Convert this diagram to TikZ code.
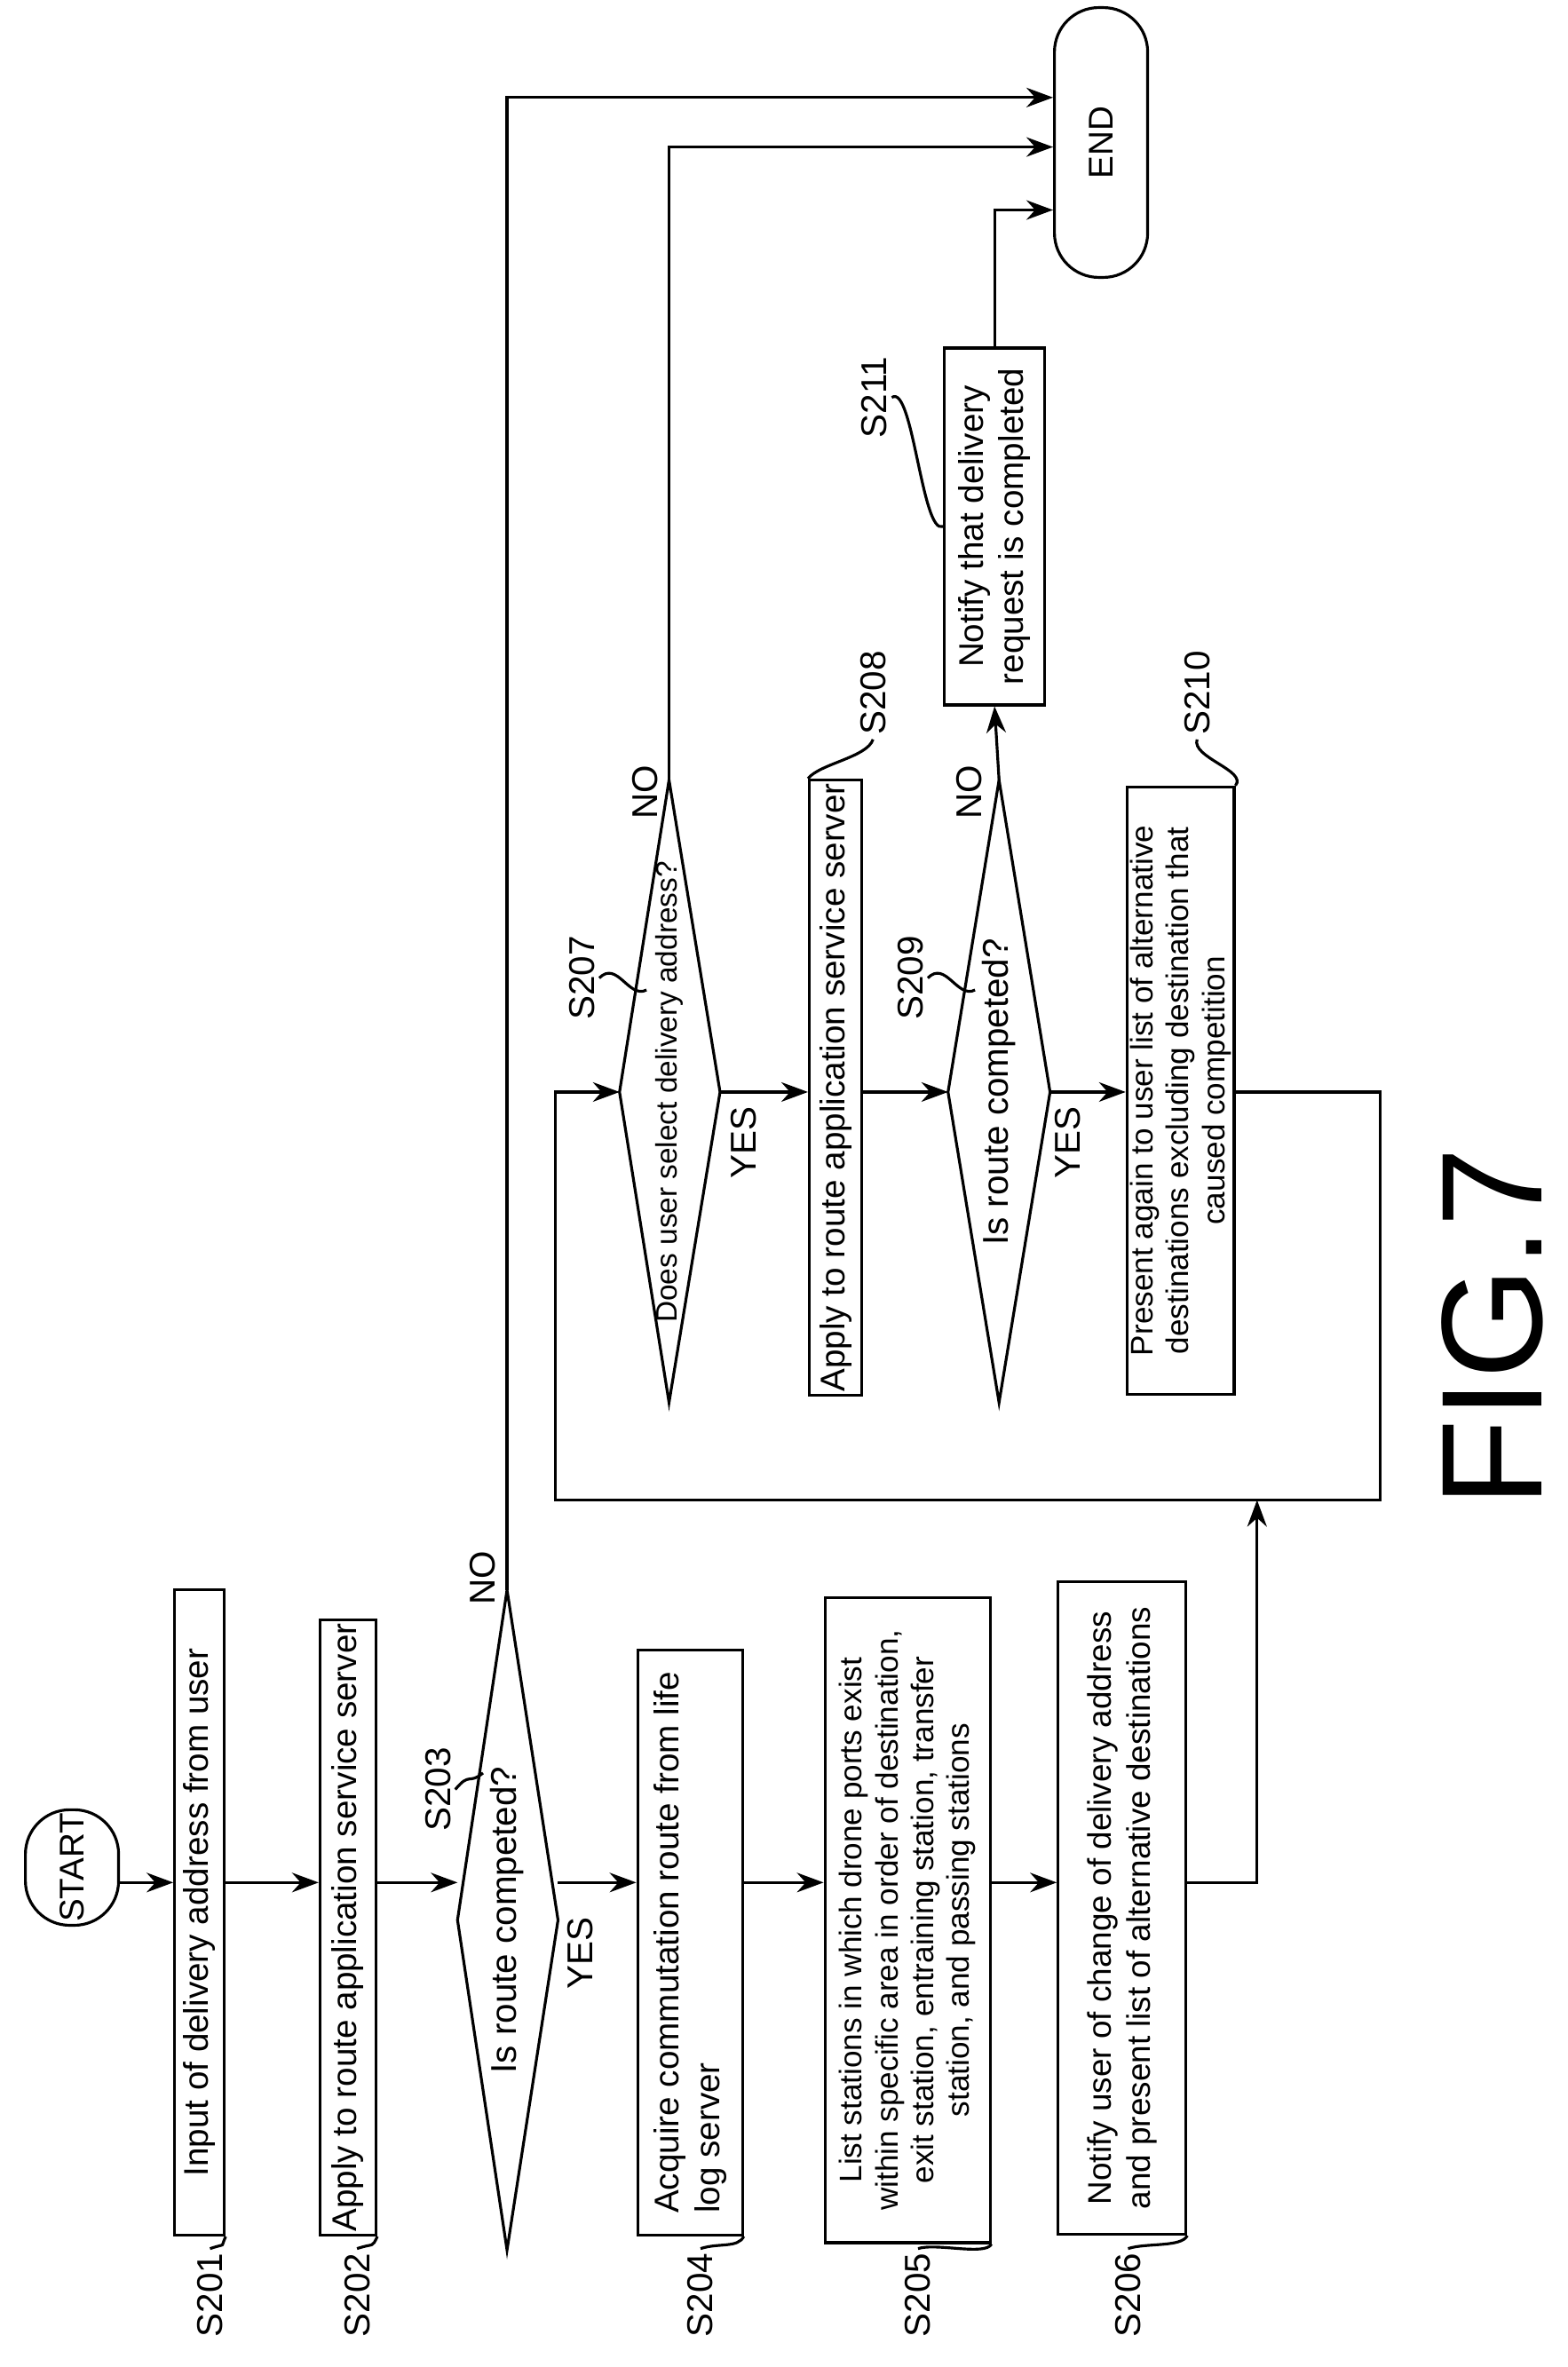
\documentclass[tikz,border=0pt]{standalone}
\usepackage{fontspec}
\setmainfont{Liberation Sans}
\usetikzlibrary{arrows.meta}

\begin{document}
\begin{tikzpicture}
  [x=0.169mm, y=-0.169mm,
   box/.style={rectangle, draw, rotate=90, align=center, inner sep=1pt, font=\fontsize{11}{13}\selectfont},
   pill/.style={box, rounded corners=5mm},
   tag/.style={rotate=90, inner sep=1pt, font=\fontsize{11.5}{13}\selectfont},
   arr/.style={-{Stealth[length=3mm, width=2.2mm]}},
   every path/.style={line width=0.9pt}]
  \useasboundingbox (0,0) rectangle (1045,1578);

  % left column
  \node (start) [pill, minimum width=11.5mm, minimum height=10.5mm] at (48,1245) {START};
  \node (s201) [box, minimum width=72.7mm, minimum height=5.6mm] at (133,1275) {Input of delivery address from user};
  \node (s202) [box, minimum width=69.3mm, minimum height=6.3mm] at (232,1285) {Apply to route application service server};
  \draw (305,1280) -- (338,1060) -- (372,1280) -- (338,1500) -- cycle;
  \coordinate (d203l) at (305,1280);
  \coordinate (d203t) at (338,1060);
  \coordinate (d203r) at (372,1280);
  \node (d203) [tag] at (338,1280) {Is route competed?};
  \node (s204) [box, align=left, minimum width=65.9mm, minimum height=11.8mm] at (460,1295) {Acquire commutation route from life\\log server};
  \node (s205) [box, minimum width=72.7mm, minimum height=18.6mm, font=\fontsize{10}{11.5}\selectfont] at (605,1280)
    {List stations in which drone ports exist\\within specific area in order of destination,\\exit station, entraining station, transfer\\station, and passing stations};
  \node (s206) [box, minimum width=73.5mm, minimum height=14.4mm, font=\fontsize{10.5}{12.5}\selectfont] at (748,1272)
    {Notify user of change of delivery address\\and present list of alternative destinations};

  % right column
  \draw (413,728) -- (446,520) -- (480,728) -- (446,935) -- cycle;
  \coordinate (d207l) at (413,728);
  \coordinate (d207t) at (446,520);
  \coordinate (d207r) at (480,728);
  \node (d207) [tag, font=\fontsize{9.5}{11}\selectfont] at (446,728) {Does user select delivery address?};
  \node (s208) [box, minimum width=69.3mm, minimum height=5.9mm] at (557,725) {Apply to route application service server};
  \draw (632,728) -- (666,520) -- (700,728) -- (666,935) -- cycle;
  \coordinate (d209l) at (632,728);
  \coordinate (d209t) at (666,520);
  \coordinate (d209r) at (700,728);
  \node (d209) [tag] at (666,728) {Is route competed?};
  \node (s210) [box, minimum width=68.4mm, minimum height=12mm, font=\fontsize{10}{11.5}\selectfont] at (787,727)
    {Present again to user list of alternative\\destinations excluding destination that\\caused competition};
  \node (s211) [box, minimum width=40.2mm, minimum height=11.3mm] at (663,351) {Notify that delivery\\request is completed};
  \node (end) [pill, minimum width=30.4mm, minimum height=10.5mm] at (734,95) {END};

  % step labels
  \node (l201) [tag] at (140,1530) {S201};
  \node (l202) [tag] at (238,1530) {S202};
  \node (l203) [tag] at (292,1193) {S203};
  \node (l204) [tag] at (467,1530) {S204};
  \node (l205) [tag] at (612,1530) {S205};
  \node (l206) [tag] at (752,1530) {S206};
  \node (l207) [tag] at (388,652) {S207};
  \node (l208) [tag] at (582,462) {S208};
  \node (l209) [tag] at (607,652) {S209};
  \node (l210) [tag] at (798,462) {S210};
  \node (l211) [tag] at (583,265) {S211};
  \foreach \n in {201,202,204,205,206}
    \draw (l\n.east) .. controls +(12,-4) and +(-4,8) .. (s\n.south west);
  \draw (l203.south) .. controls +(10,-12) and +(-10,8) .. (322,1182);
  \draw (l207.south) .. controls +(12,-12) and +(-12,6) .. (431,660);
  \draw (l209.south) .. controls +(12,-12) and +(-12,6) .. (650,660);
  \draw (l208.west) .. controls +(-4,12) and +(8,-10) .. (s208.north east);
  \draw (l210.west) .. controls +(-4,12) and +(8,-10) .. (s210.south east);
  \draw (l211.south) .. controls +(14,-10) and +(-14,6) .. (s211.north);

  % yes / no
  \node [tag] at (387,1302) {YES};
  \node [tag] at (322,1052) {NO};
  \node [tag] at (496,762) {YES};
  \node [tag] at (430,528) {NO};
  \node [tag] at (712,762) {YES};
  \node [tag] at (646,528) {NO};

  \node (fig) [rotate=90, font=\fontsize{46}{50}\selectfont] at (995,885) {FIG.7};

  % connectors
  \draw[arr] (start.south |- 0,1255) -- (s201.north |- 0,1255);
  \draw[arr] (s201.south |- 0,1255) -- (s202.north |- 0,1255);
  \draw[arr] (s202.south |- 0,1255) -- (d203l |- 0,1255);
  \draw[arr] (d203r |- 0,1255) -- (s204.north |- 0,1255);
  \draw[arr] (s204.south |- 0,1255) -- (s205.north |- 0,1255);
  \draw[arr] (s205.south |- 0,1255) -- (s206.north |- 0,1255);
  \draw[arr] (d203t) -- (338,65) -- (end.north |- 0,65);
  \draw[arr] (d207t) -- (446,98) -- (end.north |- 0,98);
  \draw[arr] (s211.east) -- (663,140) -- (end.north |- 0,140);
  \draw[arr] (d207r) -- (s208.north |- d207r);
  \draw[arr] (s208.south |- d209l) -- (d209l);
  \draw[arr] (d209r) -- (s210.north |- d209r);
  \draw[arr] (d209t) -- (s211.west);
  \draw[arr] (s206.south |- 0,1255) -- (838,1255) -- (838,1000);
  \draw[arr] (s210.south |- 0,728) -- (920,728) -- (920,1000) -- (370,1000) -- (370,728) -- (d207l);
\end{tikzpicture}
\end{document}
